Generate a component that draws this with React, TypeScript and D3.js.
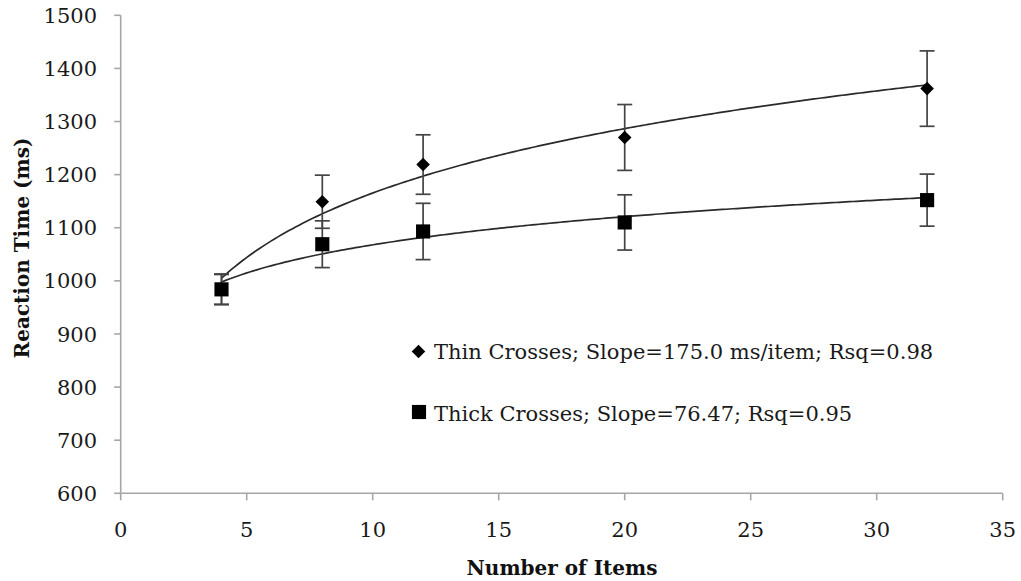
import React from "react";
import * as d3 from "d3";

// Set sizes used in the visual search experiment
const items = [4, 8, 12, 20, 32];

// Mean reaction times (ms) and error bar half-widths
const thinRT = [984, 1149, 1219, 1270, 1362];
const thinErr = [28, 50, 56, 62, 71];
const thickRT = [984, 1069, 1093, 1110, 1152];
const thickErr = [29, 44, 53, 52, 49];

// Logarithmic trendline slopes as reported in the legend
const thinSlope = 175.0;
const thickSlope = 76.47;

const xTicks = [0, 5, 10, 15, 20, 25, 30, 35];
const yTicks = [600, 700, 800, 900, 1000, 1100, 1200, 1300, 1400, 1500];

const legendLabels = [
  "Thin Crosses; Slope=175.0 ms/item; Rsq=0.98",
  "Thick Crosses; Slope=76.47; Rsq=0.95",
];

const W = 1021;
const H = 581;
const FONT = "'DejaVu Serif', serif";

const x = d3.scaleLinear().domain([0, 35]).range([120.7, 1002.7]);
const y = d3.scaleLinear().domain([600, 1500]).range([493.3, 15.3]);

// Least-squares intercept for y = a + b*ln(x) with a fixed slope b
function logIntercept(xs: number[], ys: number[], b: number) {
  const mx = d3.mean(xs.map((v) => Math.log(v))) as number;
  const my = d3.mean(ys) as number;
  return my - b * mx;
}

function trendPath(xs: number[], ys: number[], b: number) {
  const a = logIntercept(xs, ys, b);
  const lo = d3.min(xs) as number;
  const hi = d3.max(xs) as number;
  const pts: [number, number][] = d3
    .range(0, 201)
    .map((i) => lo + ((hi - lo) * i) / 200)
    .map((v) => [v, a + b * Math.log(v)]);
  return d3
    .line<[number, number]>()
    .x((d) => x(d[0]))
    .y((d) => y(d[1]))(pts) as string;
}

const diamond = d3.symbol().type(d3.symbolSquare).size(92)() as string;
const square = d3.symbol().type(d3.symbolSquare).size(200)() as string;

function ErrorBars({ vals, errs }: { vals: number[]; errs: number[] }) {
  const cap = 7.5;
  return (
    <g stroke="#444" strokeWidth={1.7} fill="none">
      {items.map((it, i) => {
        const cx = x(it);
        const top = y(vals[i] + errs[i]);
        const bot = y(vals[i] - errs[i]);
        return (
          <g key={i}>
            <line x1={cx} x2={cx} y1={top} y2={bot} />
            <line x1={cx - cap} x2={cx + cap} y1={top} y2={top} />
            <line x1={cx - cap} x2={cx + cap} y1={bot} y2={bot} />
          </g>
        );
      })}
    </g>
  );
}

export default function App() {
  return (
    <svg
      width={W}
      height={H}
      style={{ position: "absolute", left: 0, top: 0, background: "#fff" }}
    >
      <rect width={W} height={H} fill="#fff" />

      {/* axes */}
      <g stroke="#a6a6a6" strokeWidth={1.6} fill="none">
        <line x1={x(0)} x2={x(0)} y1={y(1500)} y2={y(600)} />
        <line x1={x(0)} x2={x(35)} y1={y(600)} y2={y(600)} />
        {yTicks.map((t) => (
          <line key={t} x1={x(0) - 6.5} x2={x(0)} y1={y(t)} y2={y(t)} />
        ))}
        {xTicks.map((t) => (
          <line key={t} x1={x(t)} x2={x(t)} y1={y(600)} y2={y(600) + 7} />
        ))}
      </g>

      {/* tick labels */}
      <g fontFamily={FONT} fontSize={21} fill="#1a1a1a">
        {yTicks.map((t) => (
          <text key={t} x={97} y={y(t)} dy="0.36em" textAnchor="end">
            {t}
          </text>
        ))}
        {xTicks.map((t) => (
          <text key={t} x={x(t)} y={537} textAnchor="middle">
            {t}
          </text>
        ))}
      </g>

      {/* axis titles */}
      <text
        x={562}
        y={575}
        textAnchor="middle"
        fontFamily={FONT}
        fontWeight="bold"
        fontSize={20}
        fill="#111"
      >
        Number of Items
      </text>
      <text
        transform="translate(29,248) rotate(-90)"
        textAnchor="middle"
        fontFamily={FONT}
        fontWeight="bold"
        fontSize={20}
        fill="#111"
      >
        Reaction Time (ms)
      </text>

      {/* trendlines */}
      <g fill="none" stroke="#2a2a2a" strokeWidth={1.7}>
        <path d={trendPath(items, thinRT, thinSlope)} />
        <path d={trendPath(items, thickRT, thickSlope)} />
      </g>

      <ErrorBars vals={thinRT} errs={thinErr} />
      <ErrorBars vals={thickRT} errs={thickErr} />

      {/* markers */}
      <g fill="#000">
        {items.map((it, i) => (
          <path
            key={"d" + i}
            d={diamond}
            transform={`translate(${x(it)},${y(thinRT[i])}) rotate(45)`}
          />
        ))}
        {items.map((it, i) => (
          <path
            key={"s" + i}
            d={square}
            transform={`translate(${x(it)},${y(thickRT[i])})`}
          />
        ))}
      </g>

      {/* legend */}
      <g fontFamily={FONT} fontSize={21} fill="#1a1a1a">
        <path d={diamond} transform="translate(418.5,351.5) rotate(45)" fill="#000" />
        <text x={434} y={359}>
          {legendLabels[0]}
        </text>
        <path d={square} transform="translate(419,412)" fill="#000" />
        <text x={434} y={420.5}>
          {legendLabels[1]}
        </text>
      </g>
    </svg>
  );
}
